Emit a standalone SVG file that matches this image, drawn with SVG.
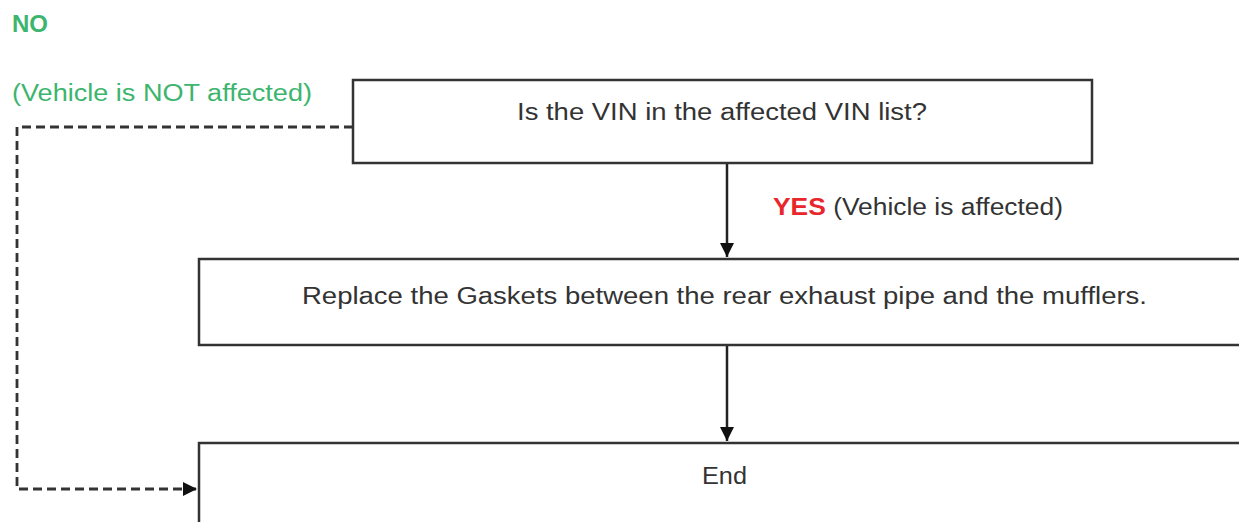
<svg xmlns="http://www.w3.org/2000/svg" width="1239" height="522" viewBox="0 0 1239 522">
<defs>
<style>
.box{fill:#fff;stroke:#333;stroke-width:2.5}
.t{font-family:"Liberation Sans",Arial,sans-serif;font-size:23px;fill:#333}
.g{font-family:"Liberation Sans",Arial,sans-serif;font-size:23px;fill:#3db56e}
.line{fill:none;stroke:#222;stroke-width:2.5}
.dash{fill:none;stroke:#333;stroke-width:2.8;stroke-dasharray:9 5}
</style>
<marker id="ah" viewBox="0 0 10 10" refX="10" refY="5" markerWidth="14" markerHeight="14" markerUnits="userSpaceOnUse" orient="auto">
<path d="M0,0 L10,5 L0,10 Z" fill="#111"/>
</marker>
</defs>
<rect width="1239" height="522" fill="#fff"/>
<g id="label-no">
<text class="g" x="12" y="32" font-weight="bold" textLength="36" lengthAdjust="spacingAndGlyphs">NO</text>
<text class="g" x="12" y="101" textLength="300" lengthAdjust="spacingAndGlyphs">(Vehicle is NOT affected)</text>
</g>
<g id="connectors">
<path class="line" d="M727,163 V257" marker-end="url(#ah)"/>
<path class="line" d="M727,345 V441" marker-end="url(#ah)"/>
<path class="dash" d="M353,127 H17 V489 H197" marker-end="url(#ah)"/>
</g>
<g id="node-vin">
<rect class="box" x="353" y="80" width="739" height="83"/>
<text class="t" x="517" y="120" textLength="410" lengthAdjust="spacingAndGlyphs">Is the VIN in the affected VIN list?</text>
</g>
<g id="label-yes">
<text class="t" x="773" y="215" textLength="290" lengthAdjust="spacingAndGlyphs"><tspan fill="#e8262b" font-weight="bold">YES</tspan> (Vehicle is affected)</text>
</g>
<g id="node-replace">
<rect class="box" x="199" y="259" width="1050" height="86"/>
<text class="t" x="302" y="304" textLength="845" lengthAdjust="spacingAndGlyphs">Replace the Gaskets between the rear exhaust pipe and the mufflers.</text>
</g>
<g id="node-end">
<rect class="box" x="199" y="443" width="1050" height="100"/>
<text class="t" x="702" y="484" textLength="45" lengthAdjust="spacingAndGlyphs">End</text>
</g>
</svg>
